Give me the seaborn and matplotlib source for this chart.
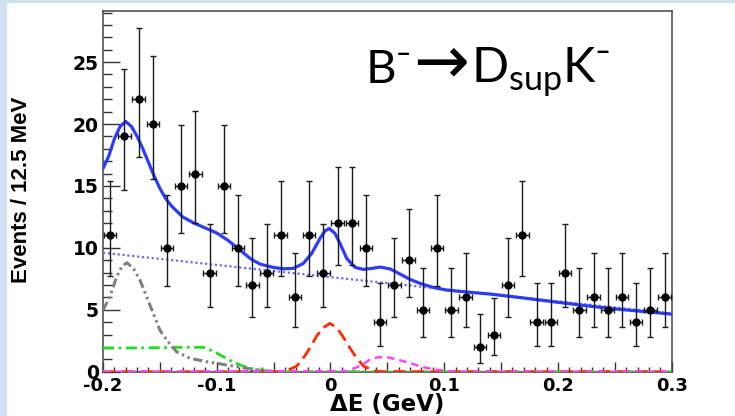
import numpy as np
import pandas as pd
import matplotlib
matplotlib.use("Agg")
import matplotlib.pyplot as plt
from matplotlib.ticker import MultipleLocator, FuncFormatter
from matplotlib.patches import Rectangle
import seaborn as sns

# ---------------- data ----------------
bin_start = -0.2
bin_width = 0.0125
counts = [11, 19, 22, 20, 10, 15, 16, 8, 15, 10, 7, 8, 11, 6, 11, 8, 12, 12, 10, 4,
          7, 9, 5, 10, 5, 6, 2, 3, 7, 11, 4, 4, 8, 5, 6, 5, 6, 4, 5, 6]
# asymmetric (Poisson) error-bar bounds, keyed by count
err_low_bound = {2: 0.71, 3: 1.37, 4: 2.09, 5: 2.84, 6: 3.62, 7: 4.42, 8: 5.23, 9: 6.06,
                 10: 6.89, 11: 7.73, 12: 8.59, 15: 11.16, 16: 12.03, 19: 14.66, 20: 15.54, 22: 17.31}
err_high_bound = {2: 4.64, 3: 5.92, 4: 7.16, 5: 8.38, 6: 9.58, 7: 10.77, 8: 11.95, 9: 13.11,
                  10: 14.27, 11: 15.42, 12: 16.56, 15: 19.95, 16: 21.07, 19: 24.41, 20: 25.52, 22: 27.73}
x_half_err = 0.0055

total_x = [-0.2, -0.195, -0.19, -0.185, -0.18, -0.175, -0.17, -0.165, -0.16, -0.155, -0.15,
           -0.145, -0.14, -0.13, -0.12, -0.11, -0.1, -0.09, -0.08, -0.07, -0.062, -0.0503,
           -0.0415, -0.0327, -0.0239, -0.0165, -0.0092, -0.0048, -0.001, 0.004, 0.0084,
           0.0143, 0.0216, 0.029, 0.0363, 0.0436, 0.0524, 0.0612, 0.07, 0.0788, 0.0905,
           0.1023, 0.1199, 0.1403, 0.161, 0.196, 0.2254, 0.2547, 0.284, 0.3]
total_y = [16.4, 17.4, 18.8, 19.8, 20.2, 19.8, 19.0, 18.0, 16.9, 15.8, 14.8,
           14.0, 13.4, 12.5, 12.0, 11.6, 11.2, 10.6, 9.85, 9.1, 8.69, 8.42,
           8.31, 8.34, 8.74, 9.55, 10.76, 11.37, 11.56, 11.16, 10.35,
           9.14, 8.42, 8.26, 8.34, 8.45, 8.3, 7.88, 7.45, 7.13, 6.8,
           6.59, 6.43, 6.27, 6.05, 5.65, 5.32, 5.03, 4.79, 4.65]

combbkg_x = [-0.2, 0.3]
combbkg_y = [9.6, 4.7]

peaking_x = [-0.2, -0.194, -0.188, -0.1836, -0.179, -0.1733, -0.1675, -0.1617, -0.1558,
             -0.15, -0.144, -0.1353, -0.1235, -0.1088, -0.0912, -0.0736, -0.06, -0.05]
peaking_y = [4.97, 6.05, 7.66, 8.47, 8.8, 8.34, 7.4, 6.05, 4.71,
             3.36, 2.56, 1.61, 1.08, 0.81, 0.54, 0.27, 0.1, 0.02]

other_x = [-0.2, -0.16, -0.13, -0.112, -0.103, -0.097, -0.091, -0.085, -0.0795, -0.0707,
           -0.06, -0.05, -0.04, 0.3]
other_y = [1.9, 1.93, 1.97, 1.97, 1.65, 1.35, 1.05, 0.75, 0.55, 0.27,
           0.1, 0.03, 0.0, 0.0]

signal_x = [-0.2, -0.045, -0.038, -0.0297, -0.0224, -0.0165, -0.012, -0.0065, -0.0005,
            0.0055, 0.0105, 0.0155, 0.0215, 0.029, 0.038, 0.045, 0.3]
signal_y = [0.0, 0.0, 0.1, 0.45, 1.3, 2.15, 2.9, 3.55, 3.9,
            3.55, 2.9, 2.15, 1.3, 0.45, 0.1, 0.0, 0.0]

dpi_x = [-0.2, 0.016, 0.023, 0.029, 0.034, 0.041, 0.048, 0.058, 0.07, 0.08, 0.09, 0.1, 0.11, 0.3]
dpi_y = [0.0, 0.05, 0.35, 0.6, 0.95, 1.15, 1.21, 1.0, 0.7, 0.4, 0.2, 0.07, 0.0, 0.0]

x_tick_labels = {-0.2: "-0.2", -0.1: "-0.1", 0.0: "0", 0.1: "0.1", 0.2: "0.2", 0.3: "0.3"}

# ---------------- figure ----------------
sns.set_style("white")
plt.rcParams["font.family"] = ["DejaVu Sans"]
plt.rcParams["font.weight"] = "bold"
plt.rcParams["text.color"] = "black"
plt.rcParams["xtick.color"] = "#333333"
plt.rcParams["ytick.color"] = "#333333"
plt.rcParams["xtick.labelcolor"] = "black"
plt.rcParams["ytick.labelcolor"] = "black"

W, H = 735, 416
fig = plt.figure(figsize=(W / 100, H / 100), dpi=100, facecolor="#d0e1f2")
fig.patches.append(Rectangle((7 / W, 0), 1, (H - 3) / H, transform=fig.transFigure,
                             facecolor="white", edgecolor="none", zorder=-10))
ax = fig.add_axes([103 / W, 1 - 371.7 / H, 568.7 / W, 360.4 / H])
ax.set_zorder(2)
ax.set_facecolor("white")

centers = bin_start + bin_width * (np.arange(len(counts)) + 0.5)
cnt = np.array(counts, dtype=float)
lo = np.array([c - err_low_bound[c] for c in counts])
hi = np.array([err_high_bound[c] - c for c in counts])

curves = [
    (other_x, other_y, "#22dd22", 2.0, (0, (4, 1.6, 1, 1.6))),
    (peaking_x, peaking_y, "#808080", 2.2, (0, (3, 1.2, 0.8, 1.2, 0.8, 1.2))),
    (signal_x, signal_y, "#ff2a00", 2.0, (0, (4.5, 2.2))),
    (dpi_x, dpi_y, "#ff44ff", 1.8, (0, (3, 2))),
    (combbkg_x, combbkg_y, "#6a6aff", 1.6, (0, (1, 1.2))),
]
for xs, ys, col, lw, ls in curves:
    sns.lineplot(x=xs, y=ys, ax=ax, color=col, linewidth=lw, linestyle=ls,
                 estimator=None, sort=False, zorder=3)
sns.lineplot(x=total_x, y=total_y, ax=ax, color="#2b3cff", linewidth=2.3,
             estimator=None, sort=False, zorder=4)

ax.errorbar(centers, cnt, yerr=[lo, hi], xerr=x_half_err, fmt="none",
            ecolor="#1a1a1a", elinewidth=1.0, capsize=2.0, capthick=1.0, zorder=5)
sns.scatterplot(x=centers, y=cnt, ax=ax, color="black", s=36, edgecolor="black",
                linewidth=0, zorder=6)

ax.set_xlim(-0.2, 0.3)
ax.set_ylim(0, 29.1)

ax.xaxis.set_major_locator(MultipleLocator(0.05))
ax.xaxis.set_minor_locator(MultipleLocator(0.01))
ax.yaxis.set_major_locator(MultipleLocator(5))
ax.yaxis.set_minor_locator(MultipleLocator(1))


def fmt_x(v, pos):
    for k, s in x_tick_labels.items():
        if abs(v - k) < 1e-6:
            return s
    return ""


ax.xaxis.set_major_formatter(FuncFormatter(fmt_x))
ax.yaxis.set_major_formatter(FuncFormatter(lambda v, p: f"{int(round(v))}"))

ax.tick_params(axis="x", which="major", direction="in", length=7.5, width=1.0,
               labelsize=13, pad=4, bottom=True, top=False)
ax.tick_params(axis="x", which="minor", direction="in", length=3.8, width=1.0,
               bottom=True, top=False)
ax.tick_params(axis="y", which="major", direction="in", length=12.5, width=1.0,
               labelsize=13.5, pad=3, left=True, right=False)
ax.tick_params(axis="y", which="minor", direction="in", length=6.2, width=1.0,
               left=True, right=False)
for sp in ax.spines.values():
    sp.set_visible(True)
    sp.set_color("#444444")
    sp.set_linewidth(1.1)
ax.set_xlabel("")
ax.set_ylabel("")

fig.text(387 / W, 1 - 405 / H, "ΔE (GeV)", ha="center", va="center",
         fontsize=16.5, fontweight="bold", color="black")
fig.text(21.5 / W, 1 - 190 / H, "Events / 12.5 MeV", rotation=90, ha="center",
         va="center", fontsize=16, fontweight="bold", color="black",
         family=["Liberation Sans Narrow", "Liberation Sans"])

# title: B- -> D_sup K-
title_kw = dict(fontweight="normal", color="black", family=["Lato", "DejaVu Sans"])
fig.text(366 / W, 1 - 83.3 / H, "B⁻", ha="left", va="baseline", fontsize=34, **title_kw)
fig.text(441 / W, 1 - 63 / H, "→", ha="center", va="center", fontsize=48,
         fontweight="normal", color="black", family=["DejaVu Sans"])
fig.text(471 / W, 1 - 83.3 / H, r"D$_{\mathregular{sup}}$K⁻", ha="left", va="baseline",
         fontsize=35, **title_kw)

fig.savefig("out.png", dpi=100, facecolor=fig.get_facecolor())
